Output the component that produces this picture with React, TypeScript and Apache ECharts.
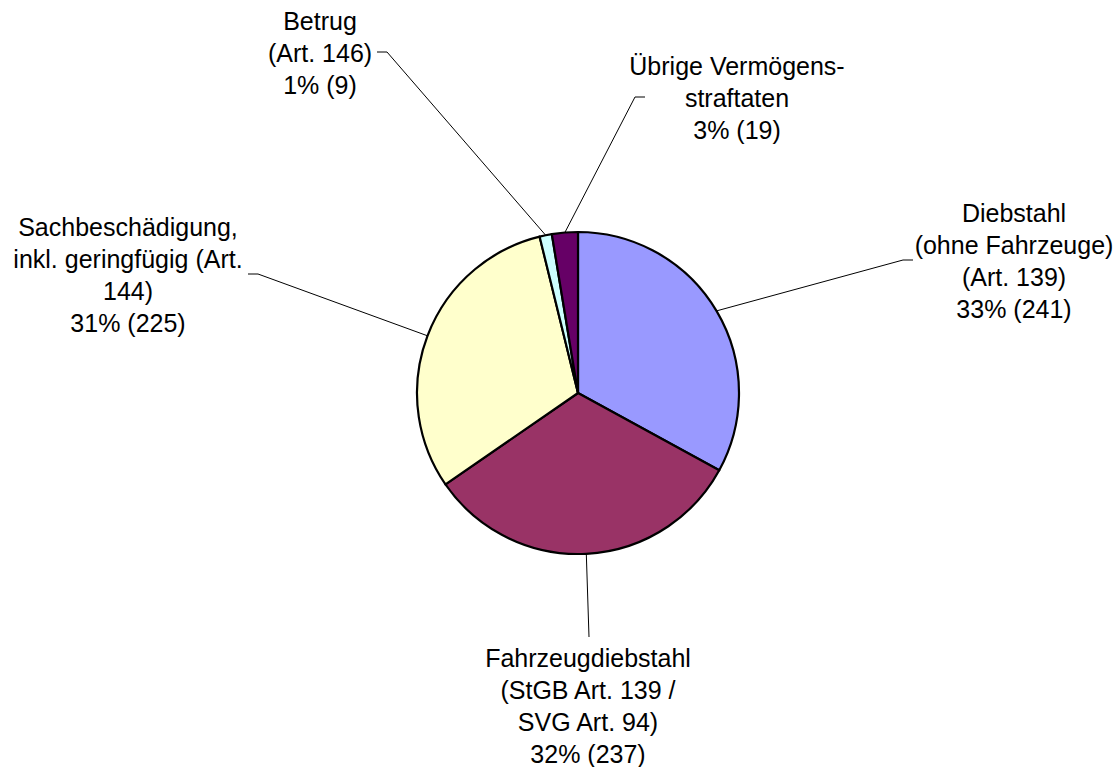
import React, { useEffect, useRef } from "react";
import * as echarts from "echarts";

const categories = [
  "Diebstahl\n(ohne Fahrzeuge)\n(Art. 139)",
  "Fahrzeugdiebstahl\n(StGB Art. 139 /\nSVG Art. 94)",
  "Sachbeschädigung,\ninkl. geringfügig (Art.\n144)",
  "Betrug\n(Art. 146)",
  "Übrige Vermögens-\nstraftaten",
];
const values = [241, 237, 225, 9, 19];
const colors = ["#9999FF", "#993366", "#FFFFCC", "#CCFFFF", "#660066"];

// label block centres and leader-line elbows (layout only)
const labelCenters = [
  [1014, 261],
  [588, 706],
  [128, 275],
  [320, 53],
  [737, 98],
];
const elbows: number[][][] = [
  [[903, 260], [913, 260]],
  [[589, 637], [589, 637]],
  [[258, 274], [248, 274]],
  [[387, 52], [377, 52]],
  [[635, 97], [645, 97]],
];

export default function App() {
  const ref = useRef<HTMLDivElement>(null);
  useEffect(() => {
    document.body.style.margin = "0";
    const chart = echarts.init(ref.current!, undefined, { renderer: "svg" });
    chart.setOption({
      animation: false,
      backgroundColor: "#ffffff",
      series: [
        {
          type: "pie",
          center: [578, 393],
          radius: 161,
          startAngle: 90,
          clockwise: true,
          data: categories.map((name, i) => ({
            name,
            value: values[i],
            itemStyle: { color: colors[i] },
          })),
          itemStyle: { borderColor: "#000", borderWidth: 2.2 },
          label: {
            show: true,
            color: "#000",
            fontFamily: "'Liberation Sans', Arial, sans-serif",
            fontSize: 25,
            lineHeight: 32,
            align: "center",
            formatter: (p: any) => `${p.name}\n${Math.round(p.percent)}% (${p.value})`,
          },
          labelLine: {
            show: true,
            lineStyle: { color: "#000", width: 1 },
          },
          labelLayout: (params: any) => {
            const i = params.dataIndex;
            const start = params.labelLinePoints ? params.labelLinePoints[0] : elbows[i][0];
            return {
              x: labelCenters[i][0],
              y: labelCenters[i][1],
              align: "center",
              verticalAlign: "middle",
              labelLinePoints: [start, elbows[i][0], elbows[i][1]],
            };
          },
          emphasis: { disabled: true },
        },
      ],
    });
    return () => chart.dispose();
  }, []);
  return <div ref={ref} style={{ width: 1120, height: 767 }} />;
}
